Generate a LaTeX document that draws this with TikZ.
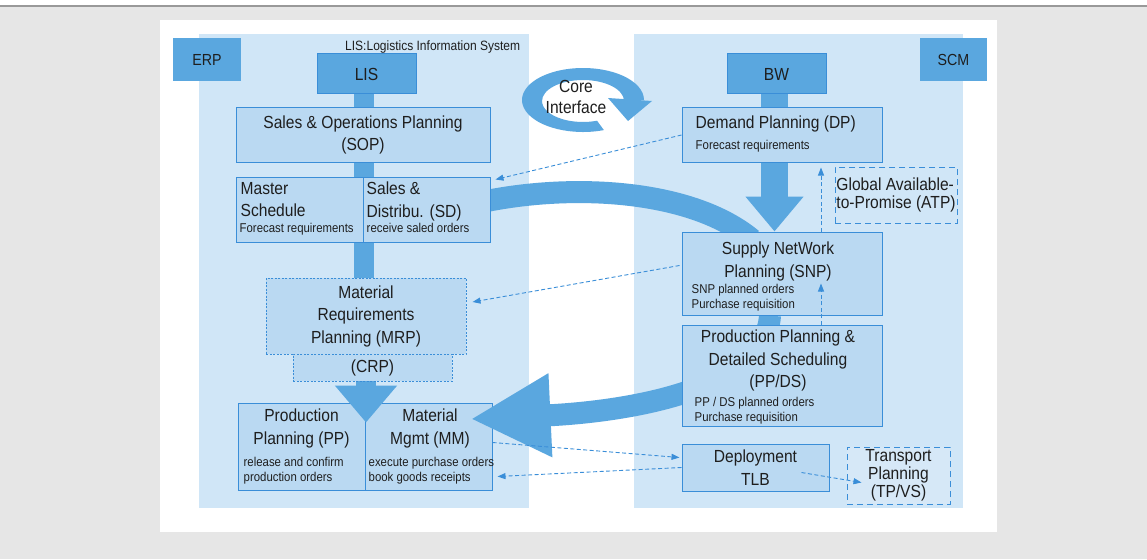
\documentclass[tikz,border=0pt]{standalone}
\usepackage{fontspec}
\setmainfont{Liberation Sans}[FakeStretch=0.89]
\usetikzlibrary{arrows.meta,positioning}
\definecolor{bggray}{HTML}{E6E6E6}
\definecolor{panelblue}{HTML}{D0E6F7}
\definecolor{boxblue}{HTML}{BAD9F2}
\definecolor{darkblue}{HTML}{5AA7DF}
\definecolor{lineblue}{HTML}{3A8ED8}
\definecolor{inkgray}{HTML}{1E1E1E}
\pgfdeclarelayer{panels}
\pgfdeclarelayer{flows}
\pgfsetlayers{panels,flows,main}
\newcommand{\titlefont}{\fontsize{17.5}{22.5}\selectfont}
\newcommand{\notefont}{\fontsize{12.8}{15.5}\selectfont}
\begin{document}
\begin{tikzpicture}[x=1pt,y=-1pt,
  box/.style={draw=lineblue, line width=1pt, fill=boxblue, inner sep=0pt, text=inkgray, font=\titlefont, align=center},
  dashbox/.style={box, dash pattern=on 2pt off 1.5pt},
  loosebox/.style={box, dash pattern=on 6pt off 4pt, font=\fontsize{17.5}{18}\selectfont},
  tagbox/.style={fill=darkblue, inner sep=0pt, minimum width=68pt, minimum height=43pt, text=inkgray, font=\fontsize{16}{18}\selectfont},
  boxtitle/.style={inner sep=0pt, text=inkgray, font=\titlefont, align=center},
  boxnote/.style={inner sep=0pt, text=inkgray, font=\notefont, align=left},
  flow/.style={draw=darkblue, line width=20pt},
  dashlink/.style={draw=lineblue, line width=0.9pt, dash pattern=on 4pt off 2.5pt, -{Triangle[length=8pt,width=6pt]}}
]
\useasboundingbox (0,0) rectangle (1147,559);

% page and the two system panels
\begin{pgfonlayer}{panels}
\fill[bggray] (0,7) rectangle (1147,559);
\draw[gray!80, line width=2pt] (0,6) -- (1147,6);
\fill[white] (160,20) rectangle (997,532);
\fill[panelblue] (199,34) rectangle (529,508);
\fill[panelblue] (634,34) rectangle (963,508);
\node[tagbox] (erp) at (207,59.5) {ERP};
\node[tagbox, minimum width=67pt] (scm) at (953.5,59.5) {SCM};
\end{pgfonlayer}

% PP / MM lie under the big arrows
\begin{pgfonlayer}{flows}
\node[box, minimum width=127pt, minimum height=87pt] (pp) at (301.5,446.5) {};
\node[box, minimum width=127pt, minimum height=87pt] (mm) at (428.5,446.5) {};
\end{pgfonlayer}

% ERP side
\node[boxnote, font=\fontsize{13.5}{15}\selectfont, anchor=base west] (lislabel) at (345,51) {LIS:Logistics Information System};
\node[box, fill=darkblue, minimum width=99pt, minimum height=40pt] (lis) at (366.5,74) {LIS};
\node[box, minimum width=254pt, minimum height=54pt] (sop) at (363,135) {Sales \& Operations Planning\\(SOP)};
\node[box, minimum width=127pt, minimum height=65pt] (master) at (299.5,209.5) {};
\node[box, minimum width=127pt, minimum height=65pt] (sd) at (426.5,209.5) {};
\node[dashbox, minimum width=200pt, minimum height=76pt] (mrp) at (366,316) {Material\\Requirements\\Planning (MRP)};
\node[dashbox, minimum width=159pt, minimum height=27pt] (crp) at (372.5,367.5) {(CRP)};

\node[boxtitle, align=left, below right=5.3pt and 5pt of master.north west] (mastertitle) {Master\\Schedule};
\node[boxnote, below right=46.5pt and 4pt of master.north west] (masternote) {Forecast requirements};
\node[boxtitle, align=left, below right=5.3pt and 4pt of sd.north west] (sdtitle) {Sales \&\\Distribu. (SD)};
\node[boxnote, below right=46.5pt and 4pt of sd.north west] (sdnote) {receive saled orders};
\node[boxtitle, below=6.3pt of pp.north] (pptitle) {Production\\Planning (PP)};
\node[boxnote, below right=54.5pt and 6pt of pp.north west] (ppnote) {release and confirm\\production orders};
\node[boxtitle, below=6.3pt of mm.north, xshift=1.5pt] (mmtitle) {Material\\Mgmt (MM)};
\node[boxnote, below right=54.5pt and 4pt of mm.north west] (mmnote) {execute purchase orders\\book goods receipts};

% SCM side
\node[box, fill=darkblue, minimum width=99pt, minimum height=40pt] (bw) at (776.5,74) {BW};
\node[box, minimum width=200pt, minimum height=54pt] (dp) at (782,135) {};
\node[loosebox, fill=none, align=left, minimum width=122pt, minimum height=56pt] (atp) at (896,195) {Global Available-\\to-Promise (ATP)};
\node[box, minimum width=200pt, minimum height=83pt] (snp) at (782,273.5) {};
\node[box, minimum width=200pt, minimum height=101pt] (ppds) at (782,375.5) {};
\node[box, minimum width=147pt, minimum height=47pt] (deploy) at (755.5,467.5) {Deployment\\TLB};
\node[loosebox, fill=boxblue!60, minimum width=103pt, minimum height=57pt] (tp) at (898.5,475.5) {Transport\\Planning\\(TP/VS)};

\node[boxtitle, align=left, below right=8.3pt and 14pt of dp.north west] (dptitle) {Demand Planning (DP)};
\node[boxnote, below right=32.5pt and 14pt of dp.north west] (dpnote) {Forecast requirements};
\node[boxtitle, below=10.3pt of snp.north, xshift=-4pt] (snptitle) {Supply NetWork\\Planning (SNP)};
\node[boxnote, below right=52.5pt and 10pt of snp.north west] (snpnote) {SNP planned orders\\Purchase requisition};
\node[boxtitle, below=5.3pt of ppds.north, xshift=-4pt] (ppdstitle) {Production Planning \&\\Detailed Scheduling\\(PP/DS)};
\node[boxnote, below right=72.5pt and 13pt of ppds.north west] (ppdsnote) {PP / DS planned orders\\Purchase requisition};

\node[boxtitle, font=\fontsize{17.5}{21}\selectfont] (core) at (576,97) {Core\\Interface};

% thick flows
\begin{pgfonlayer}{flows}
\draw[flow] ([xshift=-3pt]lis.south) -- ([xshift=-3pt]lis.south |- mrp.north);
\draw[flow, line width=27pt, -{Triangle[length=35pt,width=56pt]}] ([xshift=-2pt]bw.south) -- ([xshift=-2pt]bw.south |- snp.north);
\draw[flow, line width=22pt] ([shift={(-20,-5)}]sd.east) .. controls (565,182) and (690,188) .. ([shift={(-30,8)}]snp.north);
\draw[flow, -{Triangle[length=37pt,width=60pt]}] ([xshift=-6.5pt]crp.center) -- ([xshift=-6.5pt,yshift=-20pt]crp.south |- mm.north);
\draw[flow, line width=22pt, -{Triangle[length=80pt,width=78pt]}] ([xshift=-12pt]snp.south) .. controls (765,392) and (620,412) .. ([shift={(-22,-27.5)}]mm.east);
% core interface loop
\fill[darkblue] (583,100) ++(70:61 and 32) arc[start angle=70, end angle=360, x radius=61, y radius=32]
  -- (624,101) arc[start angle=360, end angle=70, x radius=41, y radius=21] -- cycle;
\fill[darkblue] (608,98) -- (652,101) -- (628,121) -- cycle;
\end{pgfonlayer}

% dashed links
\draw[dashlink] (dp.west) -- ([shift={(5,3)}]sd.north east);
\draw[dashlink] ([shift={(-2,-8)}]snp.west) -- ([shift={(6,-14)}]mrp.east);
\draw[dashlink] ([shift={(0,-4)}]mm.east) -- ([shift={(-2,-10)}]deploy.west);
\draw[dashlink] (deploy.west) -- ([shift={(5,30)}]mm.east);
\draw[dashlink] ([shift={(46,5)}]deploy.center) -- ([shift={(15,7)}]tp.west);
\draw[dashlink] ([xshift=39pt]ppds.north) -- ([xshift=39pt,yshift=32pt]snp.south);
\draw[dashlink] ([xshift=39pt]snp.north) -- ([xshift=39pt,yshift=-5pt]dp.south);
\end{tikzpicture}
\end{document}
